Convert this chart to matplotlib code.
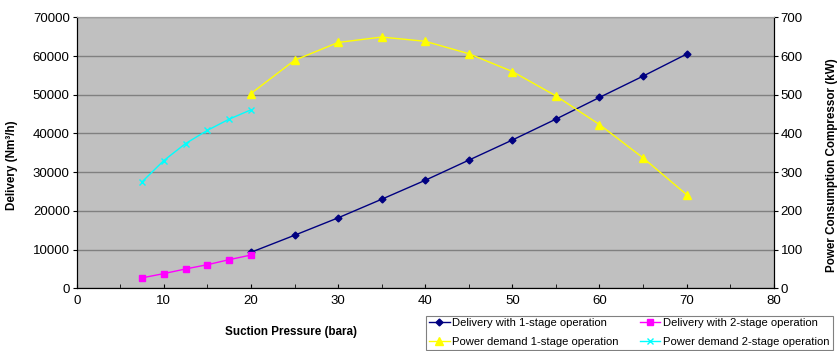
import matplotlib.pyplot as plt
import matplotlib.ticker as ticker

# Suction pressure (bara)
p_1stage = [20, 25, 30, 35, 40, 45, 50, 55, 60, 65, 70]
p_2stage = [7.5, 10, 12.5, 15, 17.5, 20]

# Delivery (Nm3/h)
delivery_1stage = [9300, 13700, 18200, 23000, 27900, 33100, 38300, 43700, 49300, 54800, 60500]
delivery_2stage = [2700, 3800, 5000, 6100, 7400, 8600]

# Power consumption (kW)
power_1stage = [503, 589, 635, 649, 638, 606, 560, 497, 423, 337, 242]
power_2stage = [275, 330, 374, 408, 437, 461]

plt.rcParams["font.family"] = ["Liberation Sans", "DejaVu Sans"]

fig = plt.figure(figsize=(8.4, 3.51), dpi=100)
ax = fig.add_axes([0.0913, 0.1786, 0.8298, 0.7721])
ax2 = ax.twinx()

ax.set_facecolor("#C0C0C0")
ax.set_zorder(ax2.get_zorder() - 1)
ax2.patch.set_visible(False)

l1, = ax.plot(p_1stage, delivery_1stage, color="#000080", marker="D", markersize=3.5, linewidth=1,
              label="Delivery with 1-stage operation")
l2, = ax.plot(p_2stage, delivery_2stage, color="#FF00FF", marker="s", markersize=5, linewidth=1,
              label="Delivery with 2-stage operation")
l3, = ax2.plot(p_1stage, power_1stage, color="#FFFF00", marker="^", markersize=5.5, linewidth=1,
               label="Power demand 1-stage operation")
l4, = ax2.plot(p_2stage, power_2stage, color="#00FFFF", marker="x", markersize=5, linewidth=1,
               markeredgewidth=1, label="Power demand 2-stage operation")

ax.set_xlim(0, 80)
ax.set_ylim(0, 70000)
ax2.set_ylim(0, 700)
ax.xaxis.set_major_locator(ticker.MultipleLocator(10))
ax.xaxis.set_minor_locator(ticker.MultipleLocator(5))
ax.yaxis.set_major_locator(ticker.MultipleLocator(10000))
ax2.yaxis.set_major_locator(ticker.MultipleLocator(100))

ax.grid(axis="y", color="#808080", linewidth=1)
ax.set_axisbelow(True)

for a in (ax, ax2):
    a.spines["top"].set_color("#A0A0A0")
    a.spines["left"].set_color("black")
    a.spines["bottom"].set_color("black")
    a.spines["right"].set_color("black")
ax.tick_params(axis="x", which="both", direction="in", length=3, labelsize=9.5, pad=5)
ax.tick_params(axis="y", length=3, labelsize=9.5, pad=2)
ax2.tick_params(axis="y", length=3, labelsize=9.5, pad=2)

ax.set_xlabel("Suction Pressure (bara)", fontsize=8.4, fontweight="bold")
ax.xaxis.set_label_coords(0.308, -0.14)
ax.set_ylabel("Delivery (Nm³/h)", fontsize=8.4, fontweight="bold")
ax.yaxis.set_label_coords(-0.084, 0.455)
ax2.set_ylabel("Power Consumption Compressor (kW)", fontsize=8.4, fontweight="bold")
ax2.yaxis.set_label_coords(1.075, 0.455)

# Excel fills the legend row by row, matplotlib column by column
leg = fig.legend(handles=[l1, l3, l2, l4], ncol=2, loc="upper left",
                 bbox_to_anchor=(0.501, 0.117), fontsize=8.1, fancybox=False,
                 edgecolor="#808080", framealpha=1, handlelength=1.8,
                 handletextpad=0.25, columnspacing=1.9, borderpad=0.25, labelspacing=0.8)
leg.get_frame().set_linewidth(0.8)

fig.savefig("out.png", dpi=100)
